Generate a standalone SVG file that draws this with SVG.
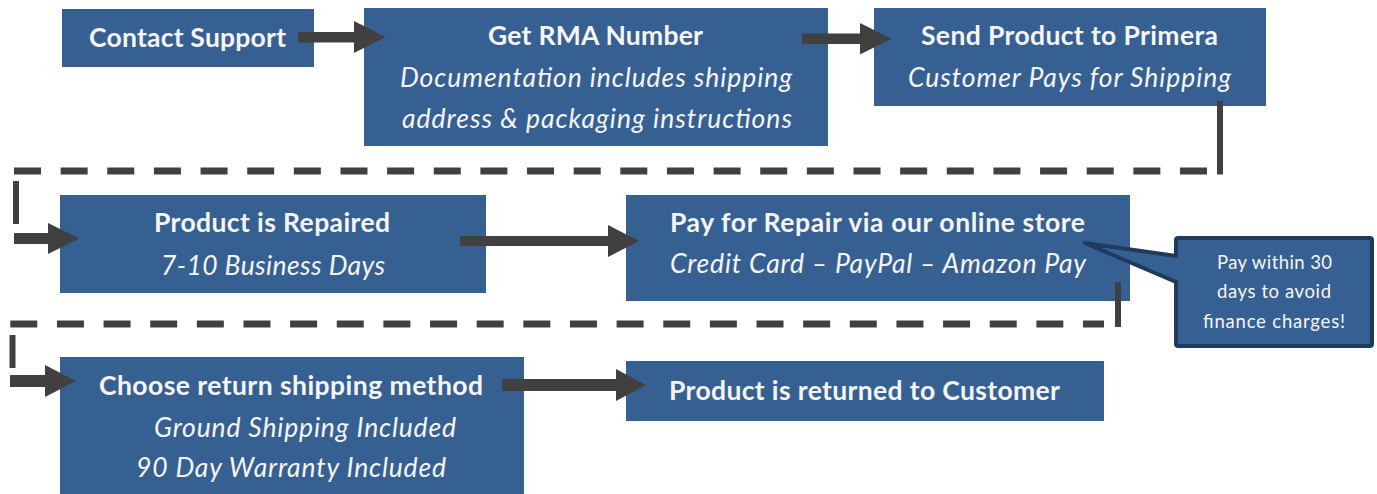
<svg xmlns="http://www.w3.org/2000/svg" width="1377" height="494" viewBox="0 0 1377 494">
  <style>
    .box { fill: #376092; }
    .t { font-family: Lato, "Open Sans", "Liberation Sans", sans-serif; fill: #f5f5f5; font-size: 26.5px; }
    .b { font-weight: bold; }
    .i { font-style: italic; }
    .note { font-size: 18.5px; }
    .arrow { fill: #404040; }
    .dash { fill: none; stroke: #404040; stroke-width: 7; stroke-dasharray: 27 19.64; }
    .solid { fill: none; stroke: #404040; stroke-width: 6; }
  </style>
  <rect width="1377" height="494" fill="#ffffff"/>

  <g id="contact-support">
    <rect class="box" x="62" y="9" width="252" height="58"/>
    <text class="t b" x="89" y="46.5" textLength="197">Contact Support</text>
  </g>

  <g id="get-rma">
    <rect class="box" x="364" y="8" width="464" height="138"/>
    <text class="t b" x="488" y="45" textLength="215">Get RMA Number</text>
    <text class="t i" x="400" y="87" textLength="392">Documentation includes shipping</text>
    <text class="t i" x="402" y="128" textLength="390">address &amp; packaging instructions</text>
  </g>

  <g id="send-product">
    <rect class="box" x="874" y="8" width="392" height="98"/>
    <text class="t b" x="921" y="45" textLength="297">Send Product to Primera</text>
    <text class="t i" x="908" y="87" textLength="323">Customer Pays for Shipping</text>
  </g>

  <g id="repaired">
    <rect class="box" x="60" y="195" width="426" height="98"/>
    <text class="t b" x="154" y="232" textLength="236">Product is Repaired</text>
    <text class="t i" x="161" y="275" textLength="224">7-10 Business Days</text>
  </g>

  <g id="pay-repair">
    <rect class="box" x="626" y="195" width="504" height="106"/>
    <text class="t b" x="670" y="232" textLength="415">Pay for Repair via our online store</text>
    <text class="t i" x="670" y="273" textLength="416">Credit Card – PayPal – Amazon Pay</text>
  </g>

  <g id="return-method">
    <rect class="box" x="60" y="357" width="464" height="137"/>
    <text class="t b" x="99" y="395" textLength="384">Choose return shipping method</text>
    <text class="t i" x="154" y="437" textLength="302">Ground Shipping Included</text>
    <text class="t i" x="136" y="477" textLength="310">90 Day Warranty Included</text>
  </g>

  <g id="returned">
    <rect class="box" x="626" y="361" width="478" height="60"/>
    <text class="t b" x="669" y="400" textLength="391">Product is returned to Customer</text>
  </g>

  <g id="connectors">
    <!-- row 1 -->
    <polygon class="arrow" points="298,32 354,32 354,21 385.5,37 354,53 354,42.5 298,42.5"/>
    <polygon class="arrow" points="802,33.5 860,33.5 860,23 891.5,38.8 860,54.5 860,44 802,44"/>
    <!-- return path from row 1 to row 2 -->
    <line class="solid" x1="1220" y1="101" x2="1220" y2="174.5"/>
    <path class="dash" d="M1207,171 H14"/>
    <line class="solid" x1="16" y1="181" x2="16" y2="224"/>
    <polygon class="arrow" points="14,233 48,233 48,223 79.5,238.5 48,254 48,244 14,244"/>
    <!-- row 2 -->
    <polygon class="arrow" points="460,236 608,236 608,225 639,241 608,257 608,246 460,246"/>
    <!-- return path from row 2 to row 3 -->
    <line class="solid" x1="1118" y1="282" x2="1118" y2="327"/>
    <path class="dash" d="M1104,324 H10" stroke-dashoffset="6"/>
    <line class="solid" x1="12.5" y1="335" x2="12.5" y2="368" stroke-width="7"/>
    <polygon class="arrow" points="10,375 45,375 45,365 76,381 45,397 45,387 10,387"/>
    <!-- row 3 -->
    <polygon class="arrow" points="502,379 616,379 616,369 646,385 616,401 616,391 502,391"/>
  </g>

  <g id="finance-note">
    <path d="M1178,238 H1370 Q1372,238 1372,240 V344 Q1372,346 1370,346 H1178 Q1176,346 1176,344 V282 L1085,243 L1176,256 V240 Q1176,238 1178,238 Z" fill="#376092" stroke="#1f3a5c" stroke-width="4" stroke-linejoin="round"/>
    <text class="t note" x="1217" y="269" textLength="115">Pay within 30</text>
    <text class="t note" x="1217" y="298" textLength="114">days to avoid</text>
    <text class="t note" x="1203" y="328" textLength="142">finance charges!</text>
  </g>
</svg>
